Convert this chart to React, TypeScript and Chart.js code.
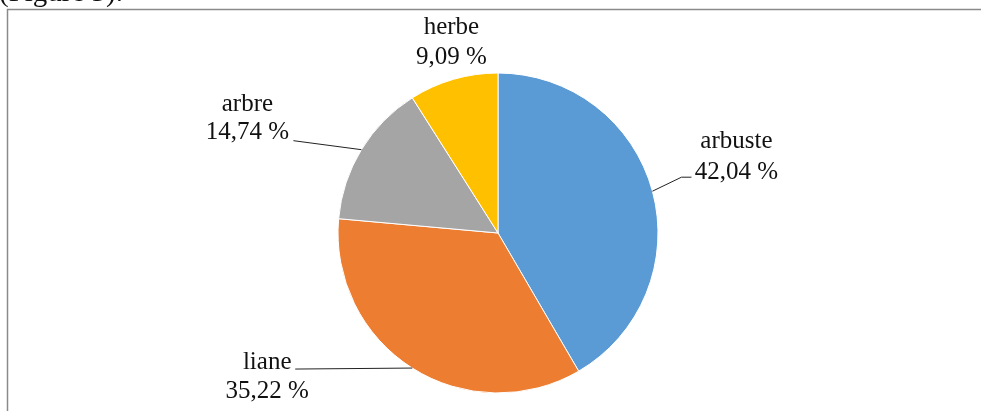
import React, { useEffect, useRef } from "react";
import { Chart, registerables } from "chart.js";

Chart.register(...registerables);

const categories = ["arbuste", "liane", "arbre", "herbe"];
const values = [42.04, 35.22, 14.74, 9.09];
const valueLabels = ["42,04 %", "35,22 %", "14,74 %", "9,09 %"];
const colors = ["#5B9BD5", "#ED7D31", "#A5A5A5", "#FFC000"];
const captionText = "(Figure 3).";

// label layout relative to the arc's outer mid-point
const labelLayout = [
  { line: [[29, -14], [39, -14]], tx: 84, ty1: -50, ty2: -19 },
  { line: [[-117, 1]], tx: -145, ty1: -6, ty2: 23 },
  { line: [[-68, -9]], tx: -114, ty1: -45, ty2: -17 },
  { line: [], tx: -2, ty1: -52, ty2: -22 },
];

const labelPlugin = {
  id: "pieLabels",
  beforeDraw(chart: any) {
    const ctx = chart.ctx;
    ctx.save();
    ctx.strokeStyle = "#8a8a8a";
    ctx.lineWidth = 1.5;
    ctx.beginPath();
    ctx.moveTo(7.5, chart.height + 2);
    ctx.lineTo(7.5, 9.5);
    ctx.lineTo(chart.width + 2, 9.5);
    ctx.stroke();
    ctx.fillStyle = "#111";
    ctx.font = "29px 'Liberation Serif', 'Times New Roman', serif";
    ctx.textBaseline = "alphabetic";
    ctx.textAlign = "left";
    ctx.fillText(captionText, -1, 1);
    ctx.restore();
  },
  afterDraw(chart: any) {
    const ctx = chart.ctx;
    const meta = chart.getDatasetMeta(0);
    ctx.save();
    meta.data.forEach((arc: any, i: number) => {
      const mid = (arc.startAngle + arc.endAngle) / 2;
      const ax = arc.x + Math.cos(mid) * arc.outerRadius;
      const ay = arc.y + Math.sin(mid) * arc.outerRadius;
      const lay = labelLayout[i];
      if (lay.line.length) {
        ctx.strokeStyle = "#222";
        ctx.lineWidth = 1;
        ctx.beginPath();
        ctx.moveTo(ax, ay);
        lay.line.forEach((p: number[]) => ctx.lineTo(ax + p[0], ay + p[1]));
        ctx.stroke();
      }
      ctx.fillStyle = "#111";
      ctx.font = "25px 'Liberation Serif', 'Times New Roman', serif";
      ctx.textAlign = "center";
      ctx.textBaseline = "middle";
      ctx.fillText(categories[i], ax + lay.tx, ay + lay.ty1);
      ctx.fillText(valueLabels[i], ax + lay.tx, ay + lay.ty2);
    });
    ctx.restore();
  },
};

export default function App() {
  const ref = useRef<HTMLCanvasElement | null>(null);
  useEffect(() => {
    if (!ref.current) return;
    const chart = new Chart(ref.current, {
      type: "pie",
      data: {
        labels: categories,
        datasets: [
          {
            data: values,
            backgroundColor: colors,
            borderColor: "#ffffff",
            borderWidth: 1,
            radius: 160,
          } as any,
        ],
      },
      options: {
        animation: false,
        responsive: true,
        maintainAspectRatio: false,
        layout: { padding: { top: 73, bottom: 18, left: 15, right: 0 } },
        plugins: {
          legend: { display: false },
          tooltip: { enabled: false },
        },
      },
      plugins: [labelPlugin],
    });
    return () => chart.destroy();
  }, []);
  return (
    <div style={{ position: "absolute", left: 0, top: 0, width: 981, height: 411, background: "#fff" }}>
      <canvas ref={ref} />
    </div>
  );
}
